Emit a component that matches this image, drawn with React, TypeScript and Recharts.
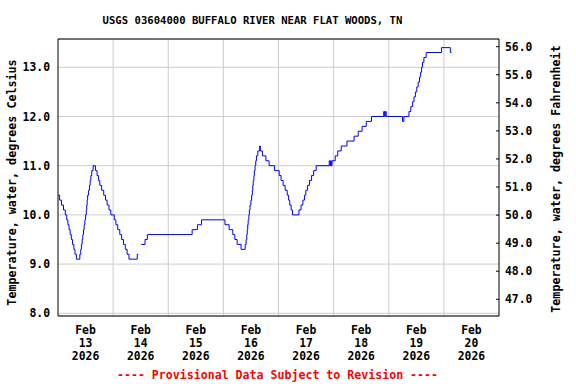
import React from 'react';
import { LineChart, Line, XAxis, YAxis, CartesianGrid, ReferenceLine } from 'recharts';

// Hours since Feb 13 2026 00:00 and water temperature (deg C); each entry is the time the reading changed.
const readings: [number, number | null][] = [
  [0, 10.4], [0.7, 10.3], [1.5, 10.2], [2.4, 10.1], [3.2, 10.0], [3.8, 9.9], [4.3, 9.8], [4.8, 9.7], [5.3, 9.6], [5.8, 9.5], [6.3, 9.4], [6.9, 9.3], [7.4, 9.2], [8.0, 9.1],
  [9.5, 9.2], [9.9, 9.3], [10.2, 9.4], [10.5, 9.5], [10.8, 9.6], [11.1, 9.7], [11.4, 9.8], [11.7, 9.9], [12.0, 10.0], [12.3, 10.1], [12.5, 10.2], [12.7, 10.3], [12.9, 10.4], [13.3, 10.5], [13.7, 10.6], [14.0, 10.7], [14.3, 10.8], [14.7, 10.9], [15.3, 11.0],
  [16.3, 10.9], [17.0, 10.8], [17.6, 10.7], [18.2, 10.6], [19.0, 10.5], [19.9, 10.4], [20.7, 10.3], [21.4, 10.2], [22.2, 10.1], [23.0, 10.0], [24.5, 9.9], [25.2, 9.8], [26.0, 9.7], [26.9, 9.6], [27.7, 9.5], [28.5, 9.4], [29.3, 9.3], [30.1, 9.2], [30.9, 9.1], [34.5, 9.2], [35.0, 9.2], [35.5, null],
  [36.2, 9.4], [37.9, 9.5], [38.9, 9.6], [58.4, 9.7], [60.7, 9.8], [62.5, 9.9], [72.7, 9.8], [74.5, 9.7], [76.1, 9.6], [77.0, 9.5], [78.0, 9.4], [79.7, 9.3],
  [81.5, 9.4], [81.9, 9.5], [82.2, 9.6], [82.4, 9.7], [82.6, 9.8], [82.8, 9.9], [83.1, 10.0], [83.3, 10.1], [83.6, 10.2], [84.0, 10.3], [84.3, 10.4], [84.6, 10.5], [84.8, 10.6], [85.0, 10.7], [85.3, 10.8], [85.5, 10.9], [85.8, 11.0], [86.1, 11.1], [86.4, 11.2], [87.0, 11.3], [87.8, 11.4], [88.1, 11.3], [89.0, 11.2], [90.5, 11.1], [91.9, 11.0], [94.3, 10.9], [96.3, 10.8], [97.1, 10.7], [98.0, 10.6], [98.9, 10.5], [99.8, 10.4], [100.4, 10.3], [100.9, 10.2], [101.5, 10.1], [102.1, 10.0],
  [104.9, 10.1], [105.8, 10.2], [106.6, 10.3], [107.3, 10.4], [107.9, 10.5], [108.6, 10.6], [109.5, 10.7], [110.4, 10.8], [111.3, 10.9], [112.4, 11.0], [118.1, 11.1], [118.4, 11.0], [118.7, 11.1], [119.0, 11.0], [119.3, 11.1], [120.7, 11.2], [121.8, 11.3], [123.3, 11.4], [125.8, 11.5], [128.9, 11.6], [130.7, 11.7], [132.4, 11.8], [134.2, 11.9], [136.5, 12.0],
  [141.8, 12.1], [142.2, 12.0], [142.5, 12.1], [142.9, 12.0], [150.0, 11.9], [150.6, 12.0], [152.8, 12.1], [153.6, 12.2], [154.4, 12.3], [155.0, 12.4], [155.6, 12.5], [156.2, 12.6], [156.8, 12.7], [157.4, 12.8], [157.9, 12.9], [158.3, 13.0], [158.7, 13.1], [159.3, 13.2], [160.3, 13.3], [167.0, 13.4], [170.8, 13.3], [171.3, 13.3],
];

const leftTicks = [8, 9, 10, 11, 12, 13];
const rightTicks = [47, 48, 49, 50, 51, 52, 53, 54, 55, 56];
const dayNoons = [12, 36, 60, 84, 108, 132, 156, 180];
const dayLabels = ['13', '14', '15', '16', '17', '18', '19', '20'];
const midnights = [24, 48, 72, 96, 120, 144, 168];
const monthLabel = 'Feb';
const yearLabel = '2026';

const title = 'USGS 03604000 BUFFALO RIVER NEAR FLAT WOODS, TN';
const leftTitle = 'Temperature, water, degrees Celsius';
const rightTitle = 'Temperature, water, degrees Fahrenheit';
const footer = '---- Provisional Data Subject to Revision ----';

const data = readings.map(([t, c]) => ({ t, c }));

const FONT = "'DejaVu Sans Mono', monospace";

const DayTick = (props: any) => {
  const { x, y, payload } = props;
  const idx = dayNoons.indexOf(payload.value);
  const st = { fontFamily: FONT, fontSize: 11.4, fontWeight: 'bold' as const, fill: '#000' };
  return (
    <g>
      <text x={x} y={y + 18} textAnchor="middle" {...st}>{monthLabel}</text>
      <text x={x} y={y + 31} textAnchor="middle" {...st}>{dayLabels[idx]}</text>
      <text x={x} y={y + 44} textAnchor="middle" {...st}>{yearLabel}</text>
    </g>
  );
};

const RightTick = (props: any) => {
  const { x, y, payload } = props;
  return (
    <g>
      <line x1={x - 3} x2={x} y1={y} y2={y} stroke="#000" strokeWidth={1} />
      <text x={x + 6} y={y} dy="0.36em" textAnchor="start" fontFamily={FONT} fontSize={11.4} fontWeight="bold" fill="#000">
        {Number(payload.value).toFixed(1)}
      </text>
    </g>
  );
};

export default function App() {
  return (
    <div style={{ position: 'absolute', left: 0, top: 0, width: 576, height: 384, background: '#fff' }}>
      <LineChart
        width={576}
        height={384}
        data={data}
        margin={{ top: 38, right: 7, bottom: 8, left: 8 }}
      >
        <CartesianGrid yAxisId="left" vertical={false} stroke="#cccccc" strokeWidth={1} />
        {midnights.map((m) => (
          <ReferenceLine key={m} x={m} yAxisId="left" stroke="#cccccc" strokeWidth={1} />
        ))}
        <XAxis
          dataKey="t"
          type="number"
          domain={[0, 192]}
          ticks={dayNoons}
          interval={0}
          allowDataOverflow
          height={60}
          tickSize={0}
          tickMargin={0}
          tickLine={false}
          axisLine={{ stroke: '#000' }}
          tick={<DayTick />}
        />
        <XAxis
          xAxisId="top"
          orientation="top"
          type="number"
          domain={[0, 192]}
          allowDataOverflow
          height={1}
          tick={false}
          tickLine={false}
          axisLine={{ stroke: '#000' }}
        />
        <YAxis
          yAxisId="left"
          type="number"
          domain={[7.945, 13.575]}
          ticks={leftTicks}
          interval={0}
          allowDataOverflow
          width={50}
          tickSize={0}
          tickMargin={8}
          tickLine={false}
          axisLine={{ stroke: '#000' }}
          tickFormatter={(v: number) => v.toFixed(1)}
          tick={{ fontFamily: FONT, fontSize: 11.4, fontWeight: 'bold', fill: '#000' }}
        />
        <YAxis
          yAxisId="right"
          orientation="right"
          type="number"
          domain={[46.404, 56.275]}
          ticks={rightTicks}
          interval={0}
          allowDataOverflow
          width={70}
          tickSize={0}
          tickMargin={0}
          tickLine={false}
          axisLine={{ stroke: '#000' }}
          tick={<RightTick />}
        />
        <Line
          yAxisId="left"
          type="stepAfter"
          dataKey="c"
          stroke="#0000ff"
          strokeWidth={1}
          dot={false}
          activeDot={false}
          connectNulls={false}
          isAnimationActive={false}
        />
      </LineChart>
      <svg width={576} height={384} style={{ position: 'absolute', left: 0, top: 0, pointerEvents: 'none' }}>
        <text x={252.5} y={24.2} textAnchor="middle" fontFamily={FONT} fontSize={10.6} fontWeight="bold" fill="#000">{title}</text>
        <text x={11.7} y={182.5} transform="rotate(-90 11.7 182.5)" textAnchor="middle" dominantBaseline="central" fontFamily={FONT} fontSize={11.7} fontWeight="bold" fill="#000">{leftTitle}</text>
        <text x={556.3} y={179} transform="rotate(-90 556.3 179)" textAnchor="middle" dominantBaseline="central" fontFamily={FONT} fontSize={11.7} fontWeight="bold" fill="#000">{rightTitle}</text>
        <text x={277.5} y={379} textAnchor="middle" fontFamily={FONT} fontSize={11.6} fontWeight="bold" fill="#ff0000">{footer}</text>
      </svg>
    </div>
  );
}
